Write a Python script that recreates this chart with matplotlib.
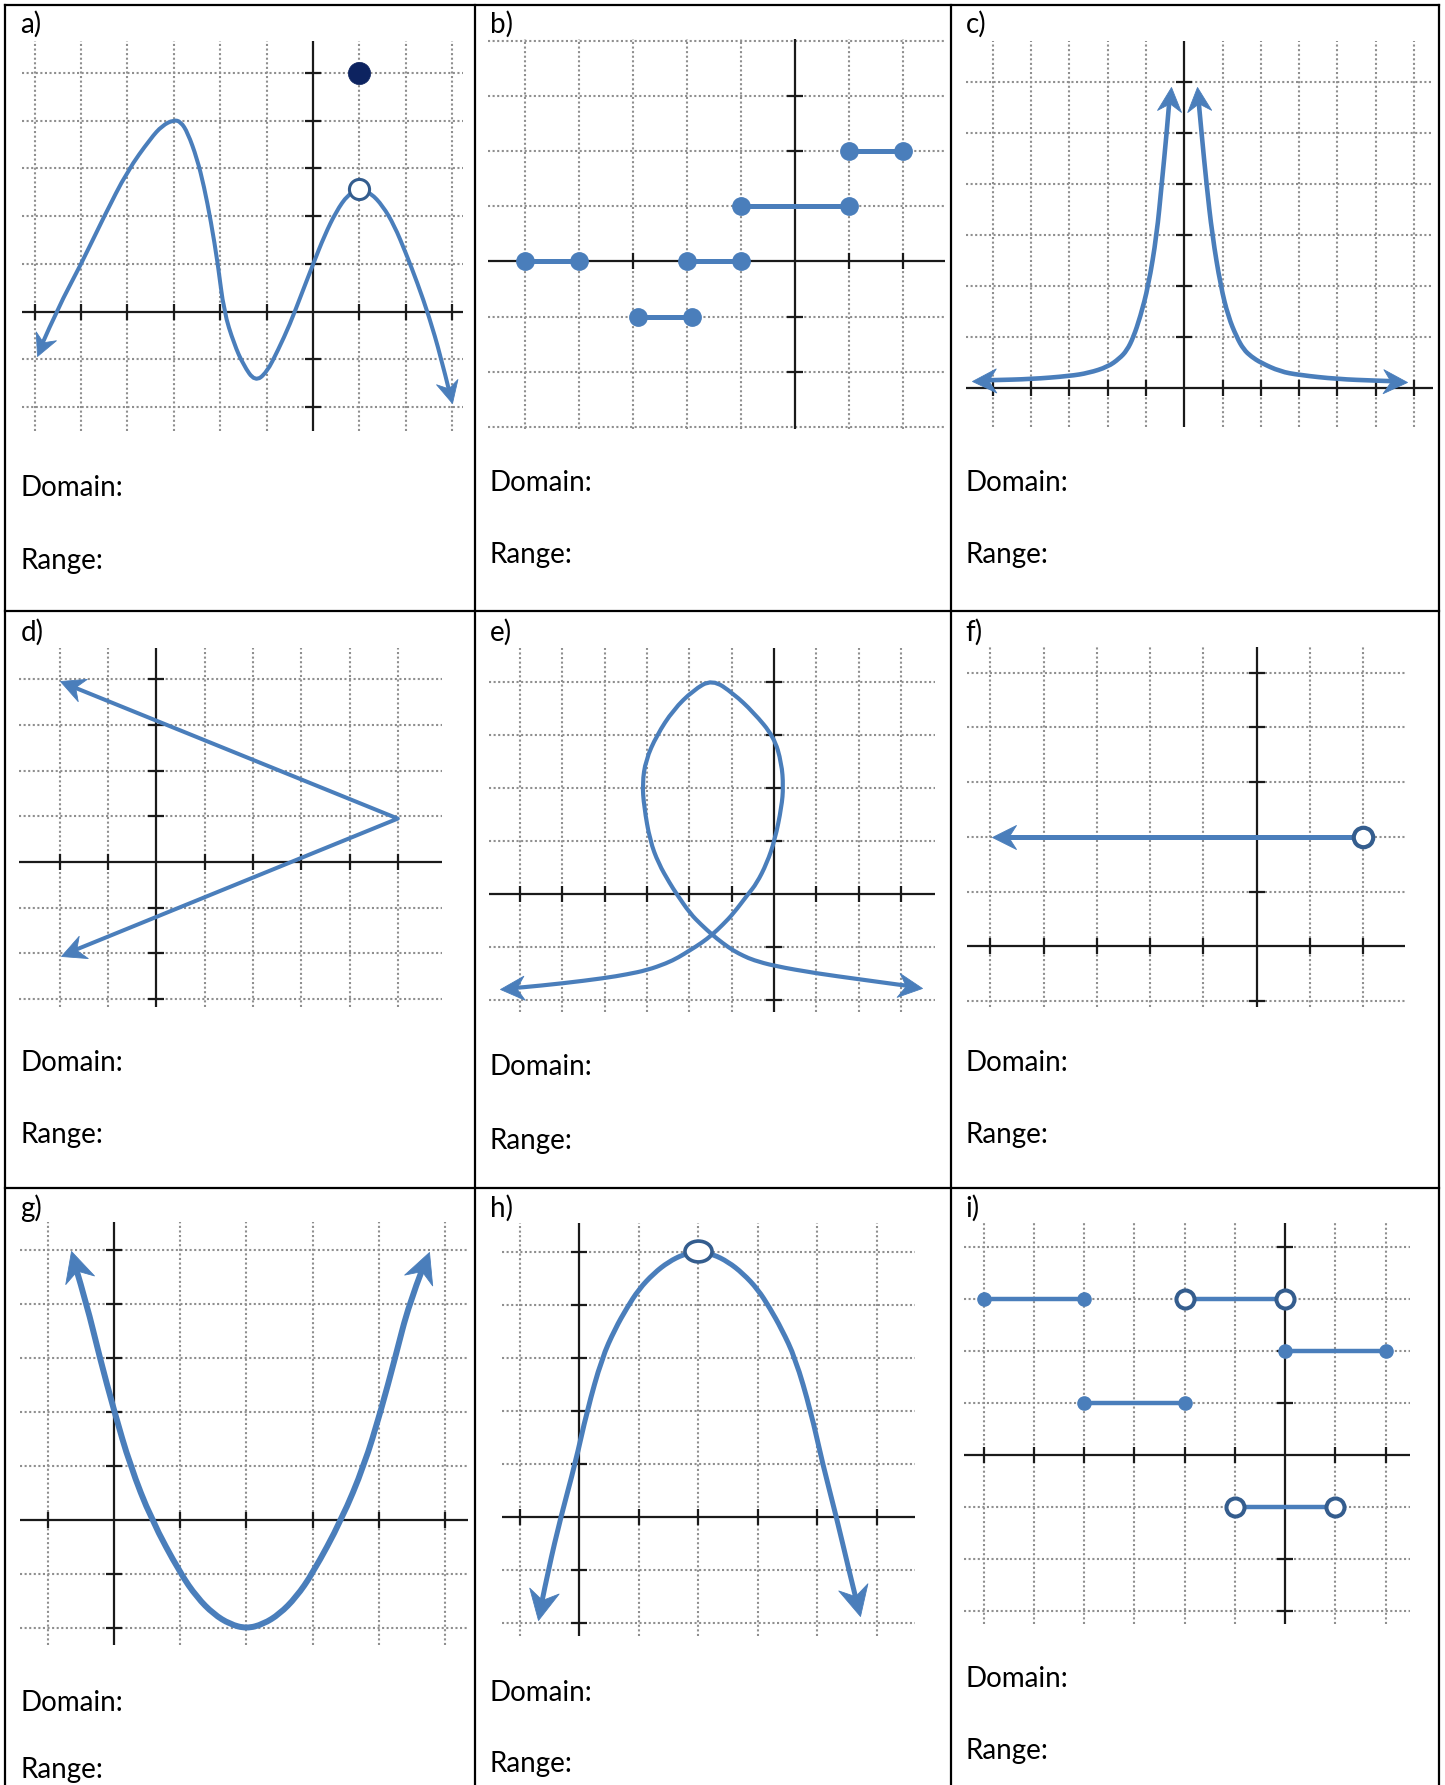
import numpy as np
import matplotlib
matplotlib.use('Agg')
import matplotlib.pyplot as plt
from matplotlib.markers import MarkerStyle
from matplotlib.path import Path
from matplotlib.patches import PathPatch
from matplotlib.transforms import Affine2D
from matplotlib.lines import Line2D

W, H = 1445, 1785
BLUE = '#4a7ebb'
RING = '#345d8e'
NAVY = '#0d2360'
GRID = '#8f8f8f'
AXC = '#1a1a1a'

# ---------------- data ----------------
# a) curve with a hole and a separate point
a_x = [-5.95, -5.5, -5.0, -4.5, -4.0, -3.5, -3.25, -3.0, -2.85, -2.7, -2.5, -2.35, -2.2, -2.05,
       -1.92, -1.7, -1.5, -1.25, -1.0, -0.75, -0.5, -0.25, 0.0, 0.25, 0.5, 0.75, 1.0,
       1.25, 1.5, 1.75, 2.0, 2.25, 2.5, 2.75, 3.0]
a_y = [-0.93, 0.07, 0.99, 2.0, 2.95, 3.63, 3.9, 4.02, 3.98, 3.75, 3.21, 2.63, 1.89, 1.0,
       0.0, -0.68, -1.12, -1.47, -1.28, -0.8, -0.27, 0.36, 0.99, 1.6, 2.1, 2.45, 2.59,
       2.48, 2.22, 1.81, 1.23, 0.6, -0.1, -0.93, -1.92]
a_hole = (1.0, 2.57)
a_point = (1.0, 5.0)

# b) step segments (all endpoints closed)
b_x0 = [-5, -2, -2.9, -1, 1]
b_x1 = [-4, -1, -1.9, 1, 2]
b_y = [0, 0, -1, 1, 2]

# c) two branches
c_left_x = [-5.56, -5.0, -4.0, -3.0, -2.5, -2.0, -1.7, -1.5, -1.33, -1.15, -0.94, -0.72, -0.59, -0.46, -0.36]
c_left_y = [0.15, 0.16, 0.18, 0.24, 0.3, 0.42, 0.58, 0.74, 1.0, 1.4, 2.0, 3.0, 4.0, 5.0, 5.9]
c_right_x = [0.34, 0.45, 0.58, 0.73, 0.95, 1.15, 1.37, 1.55, 1.75, 2.0, 2.5, 3.0, 4.0, 5.0, 5.81]
c_right_y = [5.9, 5.0, 4.0, 3.0, 2.0, 1.4, 1.0, 0.76, 0.62, 0.5, 0.33, 0.26, 0.18, 0.15, 0.13]

# d) sideways V
d_x = [-2.0, 5.0, -1.97]
d_y = [3.95, 0.95, -2.05]

# e) loop
e_x = [-6.47, -6.0, -5.0, -4.0, -3.48, -3.0, -2.54, -2.26, -1.98, -1.72, -1.46, -1.21, -0.96,
       -0.61, -0.41, -0.17, 0.02, 0.18, 0.22, 0.18, 0.0, -0.49, -0.96, -1.46, -1.91, -2.38,
       -2.77, -3.03, -3.11, -3.07, -2.93, -2.73, -2.46, -2.3, -1.98, -1.72, -1.46, -1.21,
       -0.96, -0.72, -0.49, 0.0, 1.0, 2.0, 3.0, 3.49]
e_y = [-1.79, -1.77, -1.69, -1.59, -1.52, -1.44, -1.31, -1.2, -1.06, -0.93, -0.77, -0.58, -0.37,
       0.0, 0.2, 0.58, 1.02, 1.65, 2.03, 2.47, 2.97, 3.44, 3.79, 4.06, 3.85, 3.48,
       3.0, 2.53, 2.09, 1.65, 1.01, 0.58, 0.2, 0.0, -0.37, -0.58, -0.77, -0.93,
       -1.07, -1.17, -1.25, -1.36, -1.5, -1.61, -1.72, -1.77]

# f) ray ending in a hole
f_x = [-4.97, 2.0]
f_y = [2.0, 2.0]

# g) upward parabola
g_x = [-0.66, -0.42, -0.22, 0.0, 0.24, 0.56, 1.0, 1.25, 1.5, 1.75, 2.0, 2.25, 2.5, 2.75,
       3.0, 3.44, 3.78, 4.03, 4.25, 4.46, 4.76]
g_y = [4.98, 4.0, 3.0, 2.0, 1.0, 0.0, -1.0, -1.44, -1.75, -1.94, -2.02, -1.94, -1.75, -1.44,
       -1.0, 0.0, 1.0, 2.0, 3.0, 4.0, 4.95]

# h) downward parabola with hole at vertex
h_x = [-0.69, -0.52, -0.31, -0.07, 0.13, 0.38, 0.6, 0.8, 1.0, 1.25, 1.5, 1.75, 2.0, 2.25, 2.5,
       2.75, 3.0, 3.2, 3.4, 3.63, 3.89, 4.09, 4.32, 4.53, 4.72]
h_y = [-1.95, -1.0, 0.0, 1.0, 2.0, 3.0, 3.55, 3.95, 4.3, 4.6, 4.82, 4.96, 5.03, 4.96, 4.82,
       4.6, 4.3, 3.95, 3.55, 3.0, 2.0, 1.0, 0.0, -1.0, -1.87]
h_hole = (2.0, 5.03)

# i) segments with closed / open ends
i_closed_x0 = [-6, 0, -4]
i_closed_x1 = [-4, 2, -2]
i_closed_y = [3, 2, 1]
i_open_x0 = [-2, -1]
i_open_x1 = [0, 1]
i_open_y = [3, -1]

# ---------------- layout (pixel boxes of each grid) ----------------
# left, right, top, bottom, origin_x, origin_y, unit_x, unit_y   (pixels)
PANELS = {
    'a': (21.7, 463.0, 41.5, 431.0, 313.0, 311.6, 46.4, 47.7),
    'b': (488.0, 945.0, 39.0, 428.7, 795.0, 261.4, 54.0, 55.2),
    'c': (965.7, 1433.0, 41.5, 427.0, 1184.3, 388.3, 38.27, 51.1),
    'd': (19.3, 441.7, 648.3, 1006.8, 156.3, 862.0, 48.3, 45.7),
    'e': (489.3, 935.0, 647.5, 1012.0, 774.0, 894.0, 42.33, 52.9),
    'f': (966.7, 1405.0, 647.1, 1006.8, 1256.7, 946.2, 53.3, 54.7),
    'g': (20.0, 468.3, 1222.4, 1644.9, 114.3, 1519.5, 66.1, 54.0),
    'h': (501.7, 915.0, 1223.2, 1636.4, 579.3, 1516.8, 59.5, 52.9),
    'i': (964.3, 1410.0, 1223.2, 1623.7, 1285.0, 1455.1, 50.25, 52.0),
}
LABEL_POS = {'a': (20.5, 33), 'b': (490, 33), 'c': (965.7, 33),
             'd': (20.5, 640.7), 'e': (490, 640.7), 'f': (965.7, 640.7),
             'g': (20.5, 1216.7), 'h': (490, 1216.7), 'i': (965.7, 1216.7)}
DOMAIN_Y = {'a': 496, 'b': 491, 'c': 491, 'd': 1071, 'e': 1075.3, 'f': 1071,
            'g': 1710.5, 'h': 1700.8, 'i': 1687.3}
RANGE_Y = {'a': 569, 'b': 563.5, 'c': 563.5, 'd': 1143, 'e': 1148.6, 'f': 1143,
           'g': 1777.5, 'h': 1772.2, 'i': 1758.7}
TEXT_X = {'a': 20.5, 'd': 20.5, 'g': 20.5, 'b': 490, 'e': 490, 'h': 490,
          'c': 965.7, 'f': 965.7, 'i': 965.7}

FONT = ['Lato', 'DejaVu Sans']
FS = 20

fig = plt.figure(figsize=(W / 100, H / 100), dpi=100)
fig.patch.set_facecolor('white')


def make_axes(key):
    L, R, T, B, x0, y0, ux, uy = PANELS[key]
    ax = fig.add_axes([L / W, 1 - B / H, (R - L) / W, (B - T) / H])
    ax.set_xlim((L - x0) / ux, (R - x0) / ux)
    ax.set_ylim((y0 - B) / uy, (y0 - T) / uy)
    ax.axis('off')
    xl, xr = ax.get_xlim()
    yb, yt = ax.get_ylim()
    xs = np.arange(int(np.ceil(xl)), int(np.floor(xr)) + 1)
    ys = np.arange(int(np.ceil(yb)), int(np.floor(yt)) + 1)
    for v in xs:
        if v != 0:
            ax.axvline(v, color=GRID, lw=1.5, ls=(0, (1, 1.2)), zorder=1)
    for v in ys:
        if v != 0:
            ax.axhline(v, color=GRID, lw=1.5, ls=(0, (1, 1.2)), zorder=1)
    ax.axhline(0, color=AXC, lw=1.6, zorder=2)
    ax.axvline(0, color=AXC, lw=1.6, zorder=2)
    tx = [v for v in xs if v != 0 and v - xl > 0.1 and xr - v > 0.1]
    ty = [v for v in ys if v != 0 and v - yb > 0.1 and yt - v > 0.1]
    ax.plot(tx, [0] * len(tx), ls='none', marker='|', ms=11, mew=1.6, color=AXC, zorder=2)
    ax.plot([0] * len(ty), ty, ls='none', marker='_', ms=11, mew=1.6, color=AXC, zorder=2)
    return ax


HEAD = Path([(0, 0), (-1, 0.5), (-0.68, 0), (-1, -0.5), (0, 0)],
            [Path.MOVETO, Path.LINETO, Path.LINETO, Path.LINETO, Path.CLOSEPOLY])


def smooth_path(P):
    """Quadratic B-spline style path: read points act as Bezier control points."""
    n = len(P)
    if n < 3:
        return Path(P, [Path.MOVETO] + [Path.LINETO] * (n - 1))
    verts = [P[0]]
    codes = [Path.MOVETO]
    for k in range(1, n - 1):
        end = P[n - 1] if k == n - 2 else (P[k] + P[k + 1]) / 2
        verts += [P[k], end]
        codes += [Path.CURVE3, Path.CURVE3]
    return Path(np.array(verts), codes)


def curve(ax, xs, ys, lw, head_px=24, start=False, end=False, color=BLUE, smooth=True):
    pts = ax.transData.transform(np.column_stack([xs, ys]).astype(float))
    draw = pts.copy()
    heads = []
    if end:
        d = pts[-1] - pts[-2]
        u = d / np.hypot(*d)
        heads.append((xs[-1], ys[-1], np.arctan2(u[1], u[0])))
        draw[-1] = pts[-1] - u * head_px * 0.55
    if start:
        d = pts[0] - pts[1]
        u = d / np.hypot(*d)
        heads.append((xs[0], ys[0], np.arctan2(u[1], u[0])))
        draw[0] = pts[0] - u * head_px * 0.55
    dd = ax.transData.inverted().transform(draw)
    if smooth:
        path = smooth_path(dd)
    else:
        path = Path(dd, [Path.MOVETO] + [Path.LINETO] * (len(dd) - 1))
    ax.add_patch(PathPatch(path, fill=False, edgecolor=color, lw=lw, capstyle='round',
                           joinstyle='round', zorder=5, clip_on=False))
    for hx, hy, ang in heads:
        m = MarkerStyle(HEAD, transform=Affine2D().rotate(ang))
        ax.plot([hx], [hy], ls='none', marker=m, ms=head_px / 0.694, color=color,
                mec=color, mew=0.6, zorder=6, clip_on=False)


axes = {k: make_axes(k) for k in PANELS}

# a)
ax = axes['a']
curve(ax, a_x, a_y, 2.9, head_px=22, start=True, end=True)
ax.plot(*a_hole, marker='o', ms=14.5, mfc='white', mec=RING, mew=2.2, zorder=7, clip_on=False)
ax.plot(*a_point, marker='o', ms=16, mfc=NAVY, mec=NAVY, mew=0.5, zorder=7, clip_on=False)

# b)
ax = axes['b']
for x0, x1, y in zip(b_x0, b_x1, b_y):
    ax.plot([x0, x1], [y, y], color=BLUE, lw=3.6, marker='o', ms=12.5, zorder=5, clip_on=False)

# c)
ax = axes['c']
curve(ax, c_left_x, c_left_y, 3.3, head_px=24, start=True, end=True)
curve(ax, c_right_x, c_right_y, 3.3, head_px=24, start=True, end=True)

# d)
ax = axes['d']
curve(ax, d_x, d_y, 2.9, head_px=24, start=True, end=True, smooth=False)

# e)
ax = axes['e']
curve(ax, e_x, e_y, 3.0, head_px=24, start=True, end=True)

# f)
ax = axes['f']
curve(ax, f_x, f_y, 3.6, head_px=24, start=True, smooth=False)
ax.plot(f_x[-1], f_y[-1], marker='o', ms=14, mfc='white', mec=RING, mew=3.0, zorder=7, clip_on=False)

# g)
ax = axes['g']
curve(ax, g_x, g_y, 4.3, head_px=30, start=True, end=True)

# h)
ax = axes['h']
curve(ax, h_x, h_y, 3.6, head_px=30, start=True, end=True)
ax.plot(*h_hole, marker=MarkerStyle('o', transform=Affine2D().scale(1.3, 1.0)), ms=15,
        mfc='white', mec=RING, mew=2.6, zorder=7, clip_on=False)

# i)
ax = axes['i']
for x0, x1, y in zip(i_closed_x0, i_closed_x1, i_closed_y):
    ax.plot([x0, x1], [y, y], color=BLUE, lw=3.2, marker='o', ms=9.5, zorder=5, clip_on=False)
for x0, x1, y in zip(i_open_x0, i_open_x1, i_open_y):
    ax.plot([x0, x1], [y, y], color=BLUE, lw=3.2, zorder=5, clip_on=False)
    ax.plot([x0, x1], [y, y], ls='none', marker='o', ms=13, mfc='white', mec=RING, mew=2.9,
            zorder=7, clip_on=False)

# ---------------- table and text ----------------
def fline(x0, y0, x1, y1):
    fig.add_artist(Line2D([x0 / W, x1 / W], [1 - y0 / H, 1 - y1 / H], transform=fig.transFigure,
                          color='black', lw=1.6, solid_capstyle='projecting'))

for x in [4.6, 475.0, 950.8, 1439.3]:
    fline(x, 4.6, x, H + 5)
for y in [4.6, 611.5, 1187.7]:
    fline(4.6, y, 1439.3, y)

for k in PANELS:
    lx, ly = LABEL_POS[k]
    fig.text(lx / W, 1 - ly / H, k + ')', fontsize=FS, family=FONT, va='baseline', ha='left')
    fig.text(TEXT_X[k] / W, 1 - DOMAIN_Y[k] / H, 'Domain:', fontsize=FS, family=FONT,
             va='baseline', ha='left')
    fig.text(TEXT_X[k] / W, 1 - RANGE_Y[k] / H, 'Range:', fontsize=FS, family=FONT,
             va='baseline', ha='left')

fig.savefig('out.png', dpi=100, facecolor='white')
